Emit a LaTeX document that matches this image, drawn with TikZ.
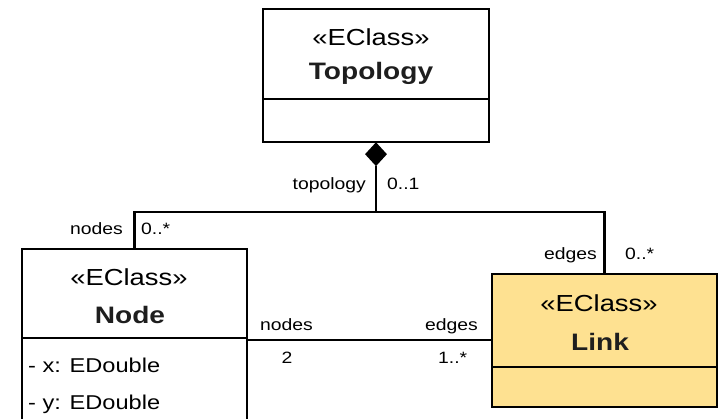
\documentclass[tikz,border=0pt]{standalone}
\usepackage{fontspec}
\setmainfont{Liberation Sans}[FakeStretch=1.18]
\usetikzlibrary{shapes.geometric}
\definecolor{linkfill}{RGB}{254,225,145}
\definecolor{titlegray}{RGB}{30,30,30}
\tikzset{
  classbox/.style={draw=black, line width=2.8pt, rectangle, inner sep=0pt, outer sep=0pt, anchor=north west},
  conn/.style={draw=black, line width=2.6pt},
  divider/.style={draw=black, line width=2.6pt},
  stereo/.style={anchor=base, inner sep=0pt, font=\fontsize{23.2}{27}\selectfont},
  cname/.style={anchor=base, inner sep=0pt, text=titlegray, font=\fontsize{23.8}{28}\selectfont\bfseries},
  attr/.style={anchor=base west, inner sep=0pt, font=\fontsize{20}{24}\selectfont},
  role/.style={inner sep=0pt, font=\fontsize{16.4}{20}\selectfont}
}
\begin{document}
\begin{tikzpicture}[x=1pt, y=-1pt]
  \useasboundingbox (0,0) rectangle (719,419);
  \clip (0,0) rectangle (719,419);

  % class boxes
  \node[classbox, fill=white, minimum width=226pt, minimum height=133pt] (topo) at (263,9) {};
  \node[classbox, fill=white, minimum width=225pt, minimum height=200pt] (nodebox) at (22,249) {};
  \node[classbox, fill=linkfill, minimum width=225pt, minimum height=133pt] (linkbox) at (492,274) {};

  % compartment dividers
  \draw[divider] (topo.west |- 0,99) -- (topo.east |- 0,99);
  \draw[divider] (nodebox.west |- 0,338) -- (nodebox.east |- 0,338);
  \draw[divider] (linkbox.west |- 0,367) -- (linkbox.east |- 0,367);

  % class headers
  \node[stereo] (topoStereo) at (371,46) {«EClass»};
  \node[cname] (topoName) at (371,80) {Topology};
  \node[stereo] (nodeStereo) at (129,285) {«EClass»};
  \node[cname] (nodeName) at (130,323) {Node};
  \node[stereo] (linkStereo) at (599,311) {«EClass»};
  \node[cname] (linkName) at (600,350) {Link};

  % attributes of Node
  \node[attr] (attrX) at (28,372) {- x: EDouble};
  \node[attr] (attrY) at (28,409) {- y: EDouble};

  % containment: Topology owns nodes and edges
  \node[diamond, fill=black, draw=none, inner sep=0pt, minimum width=22pt, minimum height=24pt, anchor=north] (dia) at (topo.south) {};
  \coordinate (split) at (376,212);
  \draw[conn] (dia.south) -- (dia.south |- split);
  \draw[conn] (nodebox.north) -- (nodebox.north |- split) -| (linkbox.north);

  % association Node -- Link
  \coordinate (midline) at (0,340);
  \draw[conn] (nodebox.east |- midline) -- (linkbox.west |- midline);

  % role names and multiplicities
  \node[role, anchor=base east] (lTopology) at (366,190) {topology};
  \node[role, anchor=base west] (mTopology) at (387,190) {0..1};
  \node[role, anchor=base east] (lNodes) at (123,235) {nodes};
  \node[role, anchor=base west] (mNodes) at (141,235) {0..*};
  \node[role, anchor=base east] (lEdges) at (597,260) {edges};
  \node[role, anchor=base west] (mEdges) at (625,260) {0..*};
  \node[role, anchor=base west] (lNodes2) at (260,330) {nodes};
  \node[role, anchor=base east] (lEdges2) at (478,330) {edges};
  \node[role, anchor=base] (mNodes2) at (287,363) {2};
  \node[role, anchor=base west] (mEdges2) at (438,363) {1..*};
\end{tikzpicture}
\end{document}
